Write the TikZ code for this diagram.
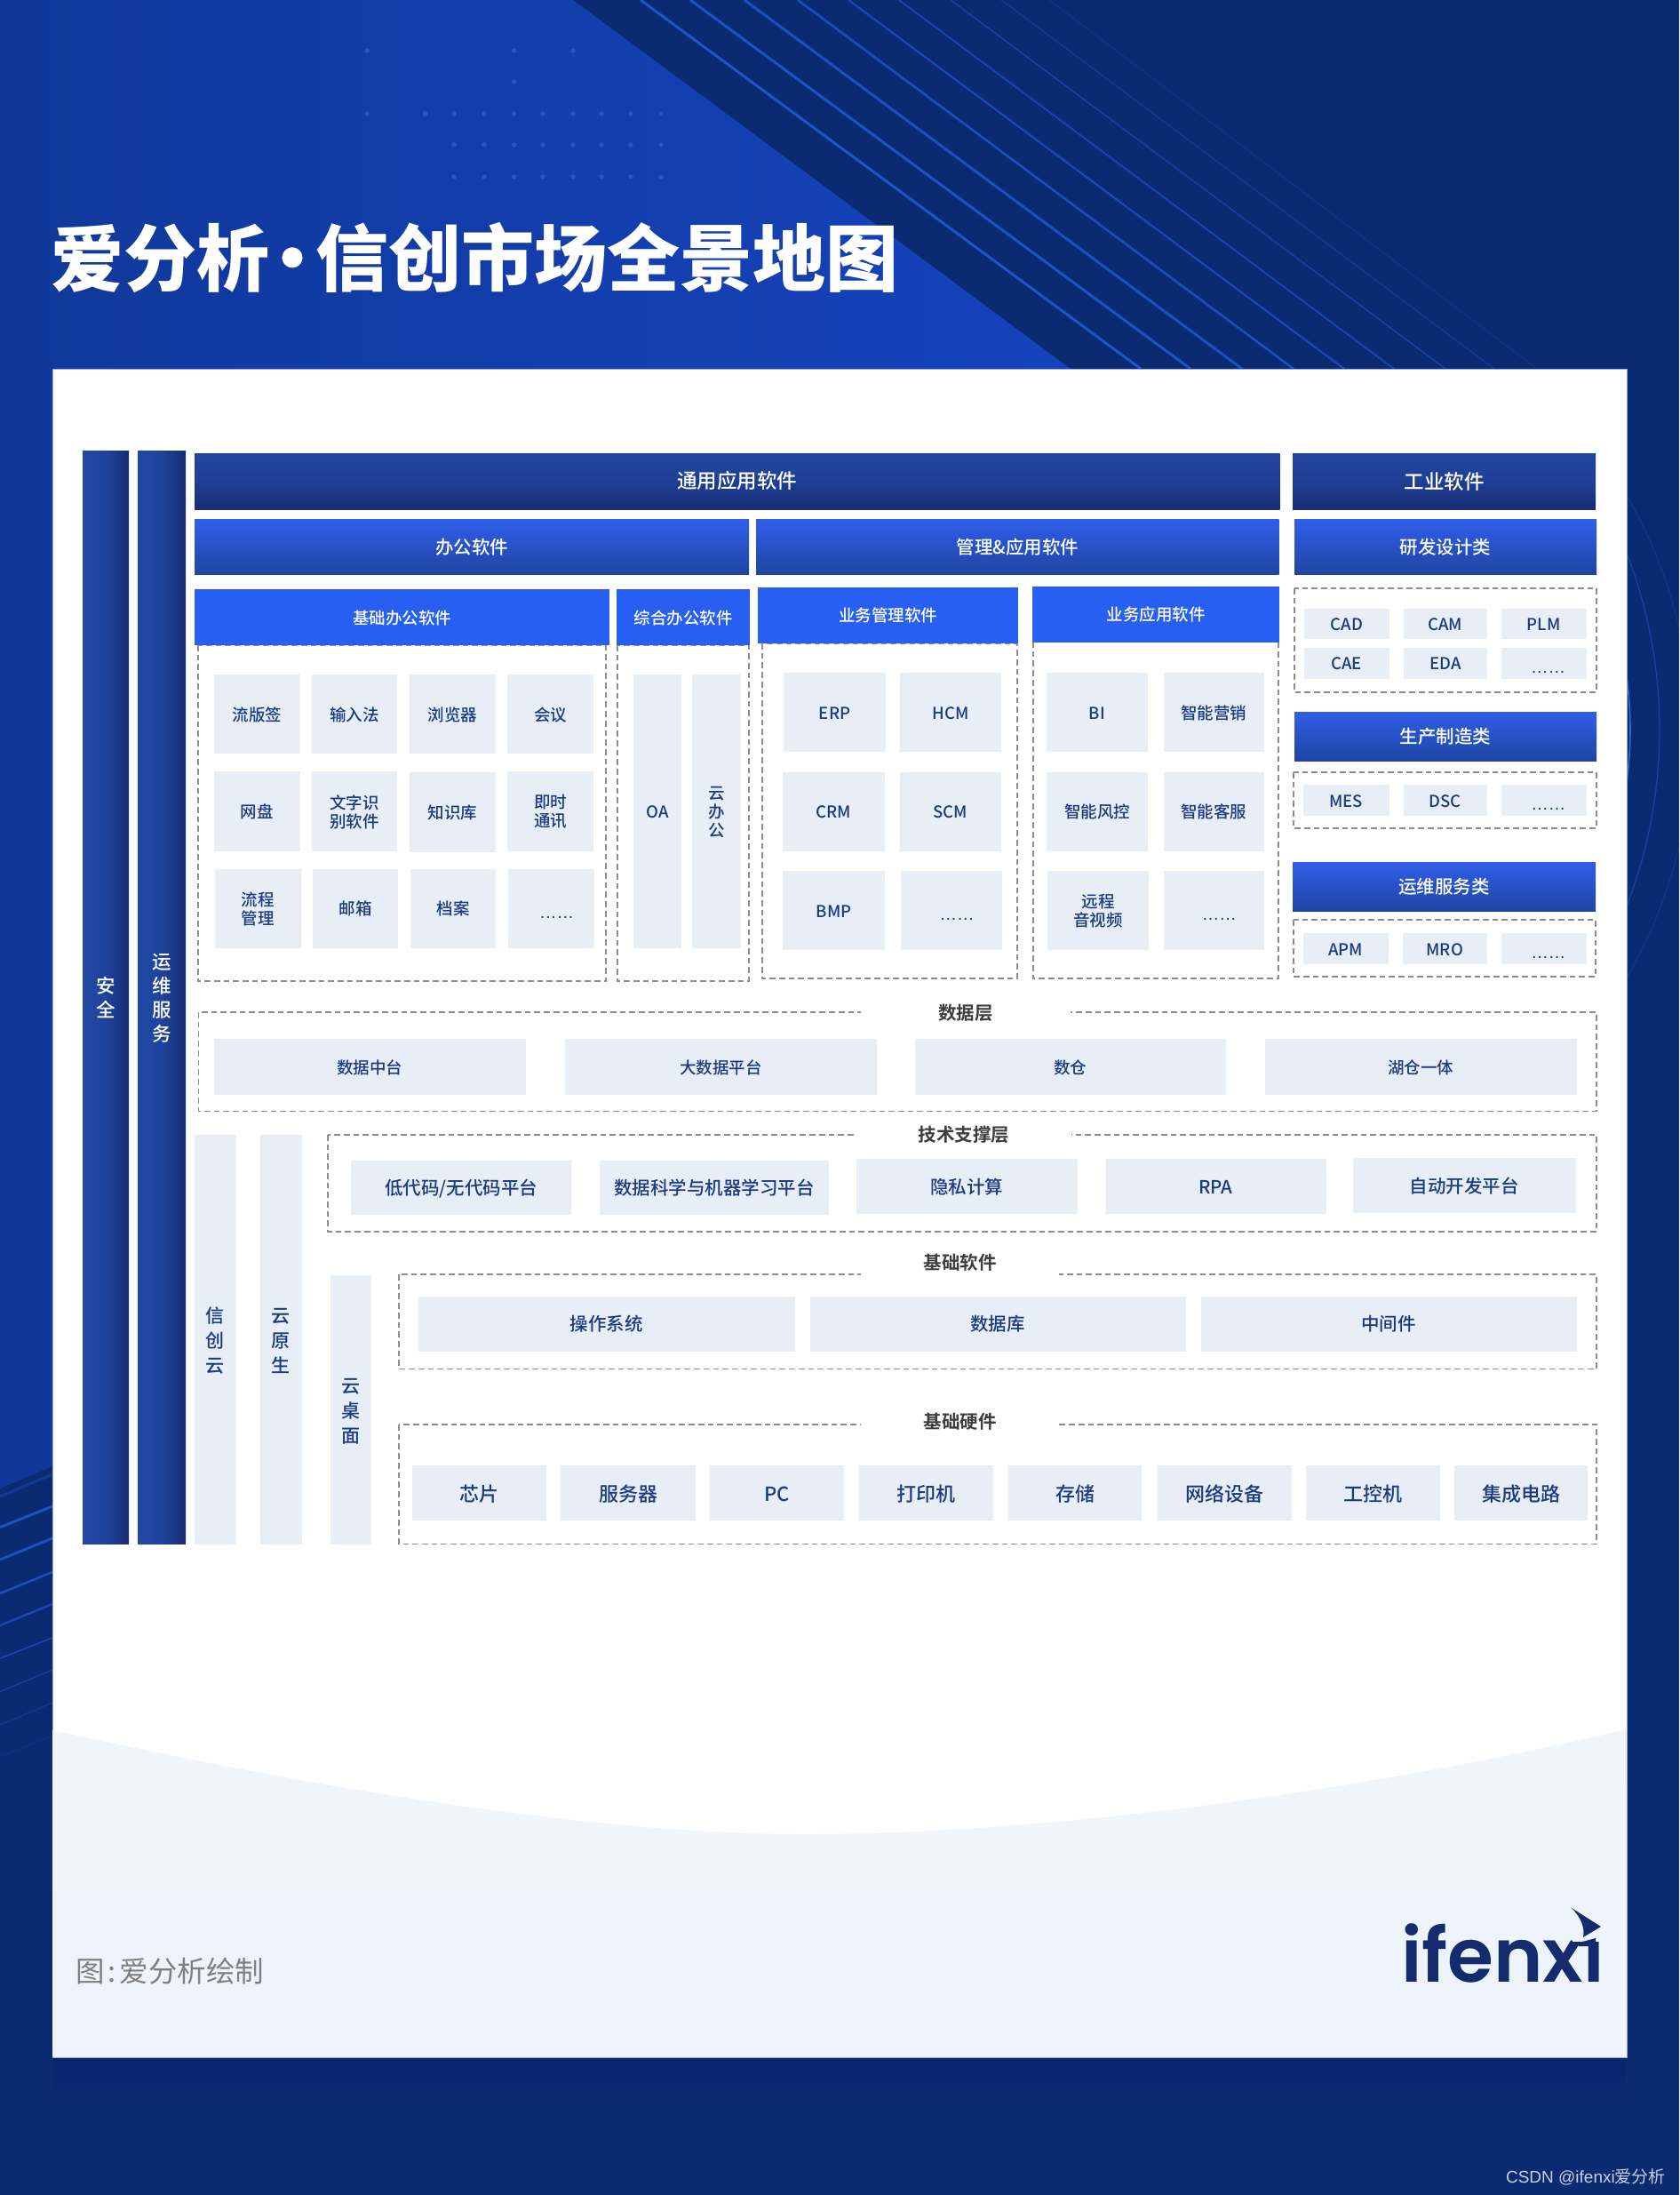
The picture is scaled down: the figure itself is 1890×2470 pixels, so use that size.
\documentclass[tikz,border=0pt]{standalone}
\usepackage{fontspec}
\setmainfont{Noto Sans CJK SC Medium}[BoldFont={Noto Sans CJK SC Bold}]
\newfontfamily\regfont{Noto Sans CJK SC}
\newfontfamily\titlefont{Noto Sans CJK SC Black}
\newfontfamily\dotfont{Liberation Sans}
\newfontfamily\logofont{Poppins}[BoldFont={Poppins SemiBold}]
\usetikzlibrary{calc}
\definecolor{bgdark}{HTML}{0A2A72}
\definecolor{bgshadow}{HTML}{08256E}
\definecolor{bgblueL}{HTML}{10389A}
\definecolor{bgblueR}{HTML}{1543BC}
\definecolor{stripe}{HTML}{2356CC}
\definecolor{itemfill}{HTML}{E7EEF5}
\definecolor{navytext}{HTML}{1B3A80}
\definecolor{lightbaseA}{HTML}{F0F5FB}
\definecolor{lightbase}{HTML}{EDF4FB}
\definecolor{dashgray}{HTML}{8E8E8E}
\definecolor{logoblue}{HTML}{142C6E}
\definecolor{hA}{HTML}{21469F}
\definecolor{hM}{HTML}{1F3F95}
\definecolor{hB}{HTML}{182C73}
\definecolor{hC}{HTML}{305EEA}
\definecolor{hD}{HTML}{1F45A2}
\definecolor{hE}{HTML}{275FF2}
\definecolor{barL}{HTML}{2048A4}
\definecolor{barM}{HTML}{1F439C}
\definecolor{barR}{HTML}{172B72}
\newcommand\fs[2]{\fontsize{#1pt}{#2pt}\selectfont}
\newcommand\dotsmark{{\dotfont\fs{19.5}{20}……}}
\newcommand\bx[7]{%
  \pgfmathsetmacro\bxw{#5-(#3)}%
  \pgfmathsetmacro\bxh{#6-(#4)}%
  \pgfmathsetmacro\bxc{(#3+#5)/2}%
  \pgfmathsetmacro\bxd{(#4+#6)/2}%
  \node[#1,minimum width=\bxw pt,minimum height=\bxh pt] (#2) at (\bxc,\bxd) {\rule[-.12em]{0pt}{1.05em}#7};}
\newcommand\dotbox[6]{\bx{item}{#1}{#2}{#3}{#4}{#5}{\hspace*{#6pt}\raisebox{-5pt}{\dotsmark}}}
\tikzset{
  allbox/.style={inner sep=0pt,outer sep=0pt,align=center,text=white},
  item/.style={allbox,fill=itemfill,text=navytext,font=\fs{18.5}{21}},
  itemb/.style={item,font=\fs{20.5}{24}},
  itemc/.style={item,font=\fs{22}{26}},
  vert/.style={item,font=\fs{21}{28}},
  sidebar/.style={allbox,left color=barL,right color=barR,middle color=barM,font=\fs{21.5}{27}},
  headA/.style={allbox,top color=hA,bottom color=hB,middle color=hM,font=\fs{22.5}{26}},
  headB/.style={allbox,top color=hC,bottom color=hD,font=\fs{20.5}{24}},
  headC/.style={allbox,fill=hE,font=\fs{18.5}{22}},
  dashbox/.style={draw=dashgray,line width=1.4pt,dash pattern=on 6.7pt off 4pt},
  seclabel/.style={inner sep=0pt,outer sep=0pt,fill=white,text=black!76,font=\bfseries\fs{20.5}{24},minimum height=30pt},
}
\begin{document}
\begin{tikzpicture}[x=1pt,y=-1pt]
\useasboundingbox (0,0) rectangle (1890,2470);
% background
\fill[bgdark] (0,0) rectangle (1890,2470);
\path[left color=bgblueL,right color=bgblueR]
  (0,0) -- (645,0) -- (1205,415) -- (1205,1200) -- (59,1650) -- (0,1675) -- cycle;
\foreach \xa/\xb/\lw/\op in {721/1284/3/0.95,777/1340/3/0.9,838/1398/3/0.85,898/1456/2.6/0.8,955/1513/2.2/0.7,1012/1569/2/0.6,1070/1627/1.6/0.5,1127/1682/1.2/0.4,1181/1730/1/0.25}
  \draw[stripe,line width=\lw pt,opacity=\op] (\xa,0) -- (\xb,415);
% dots
\foreach \px/\py in {413/57,578.6/57,645/57,578.6/92,413/128,478.5/128,511/128,545/128,578.6/128,611/128,645/128,677/128,710/128,744/128,511/163,545/163,578.6/163,611/163,645/163,677/163,710/163,744/163,511/199,545/199,578.6/199,611/199,645/199,677/199,710/199,744/199}
  \fill[stripe] (\px,\py) circle (2.8pt);
% left streaks
\foreach \ya/\yb/\lw/\op in {1684/1659/3/0.35,1718.6/1695/3/0.9,1755/1731/3/0.85,1793/1769/2.6/0.8,1829/1805/2.2/0.7,1866/1843/1.8/0.6,1903.6/1879/1.4/0.5,1941/1916/1.1/0.35,1977/1953/1/0.2}
  \draw[stripe,line width=\lw pt,opacity=\op] (0,\ya) -- (59,\yb);
% right arcs
\begin{scope}
  \clip (1831,415) rectangle (1890,1300);
  \draw[stripe!90!white,line width=1.6pt] (1413,821) circle (422pt);
  \draw[stripe,line width=1.3pt,opacity=0.55] (1320,821) circle (548pt);
  \draw[stripe,line width=1pt,opacity=0.3] (1364,829) circle (540pt);
\end{scope}
% soft shade under the panel
\path[top color=bgshadow,bottom color=bgdark] (60,2315) rectangle (1830,2365);
% panel
\path[fill=white,draw=white!55!bgblueR,line width=1pt] (59,415) rectangle (1831,2315);
\path[top color=lightbaseA,bottom color=lightbase] (59.5,1947) .. controls (300,2000) and (640,2064) .. (904,2064)
  .. controls (1200,2064) and (1560,2010) .. (1830.5,1946) -- (1830.5,2314.5) -- (59.5,2314.5) -- cycle;
% title
\node[anchor=west,inner sep=0pt,text=white,font=\titlefont\fs{82}{90}] (title) at (57,290) {爱分析\makebox[52pt][c]{·}信创市场全景地图};
% dashed frames
\draw[dashbox] (223,726) rectangle (682,1104);
\draw[dashbox] (695,726) rectangle (843,1104);
\draw[dashbox] (858,724) rectangle (1145,1101);
\draw[dashbox] (1163,722) rectangle (1439,1101);
\draw[dashbox] (1457,662) rectangle (1797,779);
\draw[dashbox] (1456,869) rectangle (1797,932);
\draw[dashbox] (1456,1035) rectangle (1796,1099);
\draw[dashbox] (223.6,1139) rectangle (1797,1250.5);
\draw[dashbox] (369,1277) rectangle (1797,1386);
\draw[dashbox] (449,1434) rectangle (1797,1540.6);
\draw[dashbox] (449,1603) rectangle (1797,1737.5);
% section labels
\bx{seclabel}{lblData}{969}{1124}{1205}{1154}{数据层}
\bx{seclabel}{lblTech}{964}{1261}{1206}{1291}{技术支撑层}
\bx{seclabel}{lblSoft}{969}{1405}{1192}{1435}{基础软件}
\bx{seclabel}{lblHard}{969}{1584}{1192}{1614}{基础硬件}
% side bars
\bx{sidebar}{anquan}{93}{507}{145}{1737}{安\\全}
\bx{sidebar}{yunwei}{155}{507}{209}{1737}{运\\维\\服\\务}
% headers
\bx{headA}{tongyong}{219}{510}{1440.5}{573}{\raisebox{1.5pt}{通用应用软件}}
\bx{headA}{gongye}{1455}{510}{1796}{573}{工业软件}
\bx{headB}{bangong}{219}{584.5}{843}{646.5}{办公软件}
\bx{headB}{guanli}{851}{584.5}{1439.5}{646.5}{管理\&应用软件}
\bx{headB}{yanfa}{1457}{584.5}{1797}{646.5}{研发设计类}
\bx{headB}{shengchan}{1457}{801}{1797}{856}{生产制造类}
\bx{headB}{yunweilei}{1455}{970}{1796}{1025}{运维服务类}
\bx{headC}{jichu}{219}{663}{686}{726}{基础办公软件}
\bx{headC}{zonghe}{694}{663}{844}{726}{综合办公软件}
\bx{headC}{yewug}{853}{661}{1146}{724}{业务管理软件}
\bx{headC}{yewuy}{1162}{660}{1440}{722.5}{业务应用软件}
% basic office
\bx{item}{a1}{241}{759}{337.5}{848}{流版签}
\bx{item}{a2}{351}{759}{447}{848}{输入法}
\bx{item}{a3}{461}{759}{557.5}{848}{浏览器}
\bx{item}{a4}{571}{759}{668}{848}{会议}
\bx{item}{a5}{241}{868}{337.5}{957.5}{网盘}
\bx{item}{a6}{351}{868}{447}{957.5}{文字识\\别软件}
\bx{item}{a7}{461}{869}{557.5}{959}{知识库}
\bx{item}{a8}{571}{868}{668}{957.5}{即时\\通讯}
\bx{item}{a9}{242}{977.5}{338.6}{1066.5}{流程\\管理}
\bx{item}{a10}{352}{977.5}{448}{1066.5}{邮箱}
\bx{item}{a11}{462}{977.5}{558}{1066.5}{档案}
\dotbox{a12}{572}{977.5}{669}{1066.5}{12}
\bx{item}{oa}{713}{759}{767}{1066.5}{OA}
\bx{item}{ybg}{779}{759}{833.5}{1066.5}{云\\办\\公}
% mgmt
\bx{item}{b1}{882}{757}{997}{846}{ERP}
\bx{item}{b2}{1013}{757}{1127}{846}{HCM}
\bx{item}{b3}{881}{868.5}{996}{957.5}{CRM}
\bx{item}{b4}{1013}{868.5}{1127}{957.5}{SCM}
\bx{item}{b5}{881}{980}{996}{1069}{BMP}
\dotbox{b6}{1014}{980}{1128}{1069}{12}
% apps
\bx{item}{c1}{1178}{757}{1292}{846}{BI}
\bx{item}{c2}{1309.5}{757}{1423}{846}{智能营销}
\bx{item}{c3}{1178}{868.5}{1292}{957.5}{智能风控}
\bx{item}{c4}{1309.5}{868.5}{1423}{957.5}{智能客服}
\bx{item}{c5}{1179}{980}{1293}{1069}{远程\\音视频}
\dotbox{c6}{1309.5}{980}{1423}{1069}{12}
% industrial
\bx{item}{d1}{1468}{684.5}{1563.5}{719}{CAD}
\bx{item}{d2}{1579.6}{684.5}{1674}{719}{CAM}
\bx{item}{d3}{1689.5}{684.5}{1785.6}{719}{PLM}
\bx{item}{d4}{1468}{729}{1563.5}{763.7}{CAE}
\bx{item}{d5}{1579.6}{729}{1674}{763.7}{EDA}
\dotbox{d6}{1689.5}{729}{1785.6}{763.7}{10}
\bx{item}{e1}{1467}{883}{1563.5}{918}{MES}
\bx{item}{e2}{1579.6}{883}{1674}{918}{DSC}
\dotbox{e3}{1690}{883}{1785.6}{918}{10}
\bx{item}{f1}{1467}{1050}{1562.5}{1085}{APM}
\bx{item}{f2}{1578.6}{1050}{1674}{1085}{MRO}
\dotbox{f3}{1690}{1050}{1785.6}{1085}{10}
% data layer
\bx{item}{g1}{241}{1169}{591.6}{1232}{数据中台}
\bx{item}{g2}{636}{1169}{987}{1232}{大数据平台}
\bx{item}{g3}{1029.5}{1169}{1379.5}{1232}{数仓}
\bx{item}{g4}{1423.5}{1169}{1774.5}{1232}{湖仓一体}
% tech
\bx{itemb}{h1}{395}{1306}{643}{1367}{低代码/无代码平台}
\bx{itemb}{h2}{675}{1306}{933}{1367}{数据科学与机器学习平台}
\bx{itemb}{h3}{963.5}{1304}{1212.5}{1366}{隐私计算}
\bx{itemb}{h4}{1244.5}{1304}{1492.5}{1366}{RPA}
\bx{itemb}{h5}{1522.5}{1303}{1773.5}{1365}{自动开发平台}
% columns
\bx{vert}{xcy}{219}{1277}{265.5}{1737.5}{信\\创\\云}
\bx{vert}{yys}{293}{1277}{339.6}{1737.5}{云\\原\\生}
\bx{vert}{yzm}{372}{1435}{418}{1737.5}{云\\桌\\面}
% basic software
\bx{itemb}{i1}{471}{1458.6}{894.7}{1520.6}{操作系统}
\bx{itemb}{i2}{911.5}{1458.6}{1334.5}{1520.6}{数据库}
\bx{itemb}{i3}{1351.5}{1458.6}{1774.5}{1520.6}{中间件}
% hardware
\bx{itemc}{j1}{464}{1649.4}{614.5}{1711.4}{芯片}
\bx{itemc}{j2}{631}{1649.4}{783}{1711.4}{服务器}
\bx{itemc}{j3}{799.4}{1649.4}{950}{1711.4}{PC}
\bx{itemc}{j4}{967}{1649.4}{1118}{1711.4}{打印机}
\bx{itemc}{j5}{1135}{1649.4}{1285}{1711.4}{存储}
\bx{itemc}{j6}{1302.5}{1649.4}{1453.5}{1711.4}{网络设备}
\bx{itemc}{j7}{1469.5}{1649.4}{1620.5}{1711.4}{工控机}
\bx{itemc}{j8}{1637}{1649.4}{1787}{1711.4}{集成电路}
% footer
\node[anchor=west,inner sep=0pt,text=black!50,font=\regfont\fs{32.5}{36}] (source) at (85,2218) {图\hspace{4pt}:\hspace{4pt}爱分析绘制};
\node[anchor=base west,inner sep=0pt,text=logoblue,font=\logofont\bfseries\fs{84}{90}] (logo) at (1577,2230) {ifenxi};
\fill[lightbase] (1770,2140) rectangle (1805,2185);
\fill[logoblue] (1769,2147) -- (1802,2168) -- (1782,2180) .. controls (1784,2170) and (1780,2158) .. (1769,2147) -- cycle;
\fill[logoblue] (1777,2186) -- (1796,2181) -- (1796,2190) -- (1777,2190) -- cycle;
\node[anchor=east,inner sep=0pt,text=white!78!bgdark,font=\regfont\fs{19}{22}] (wm) at (1875,2450) {{\dotfont CSDN @ifenxi}爱分析};
\end{tikzpicture}
\end{document}
